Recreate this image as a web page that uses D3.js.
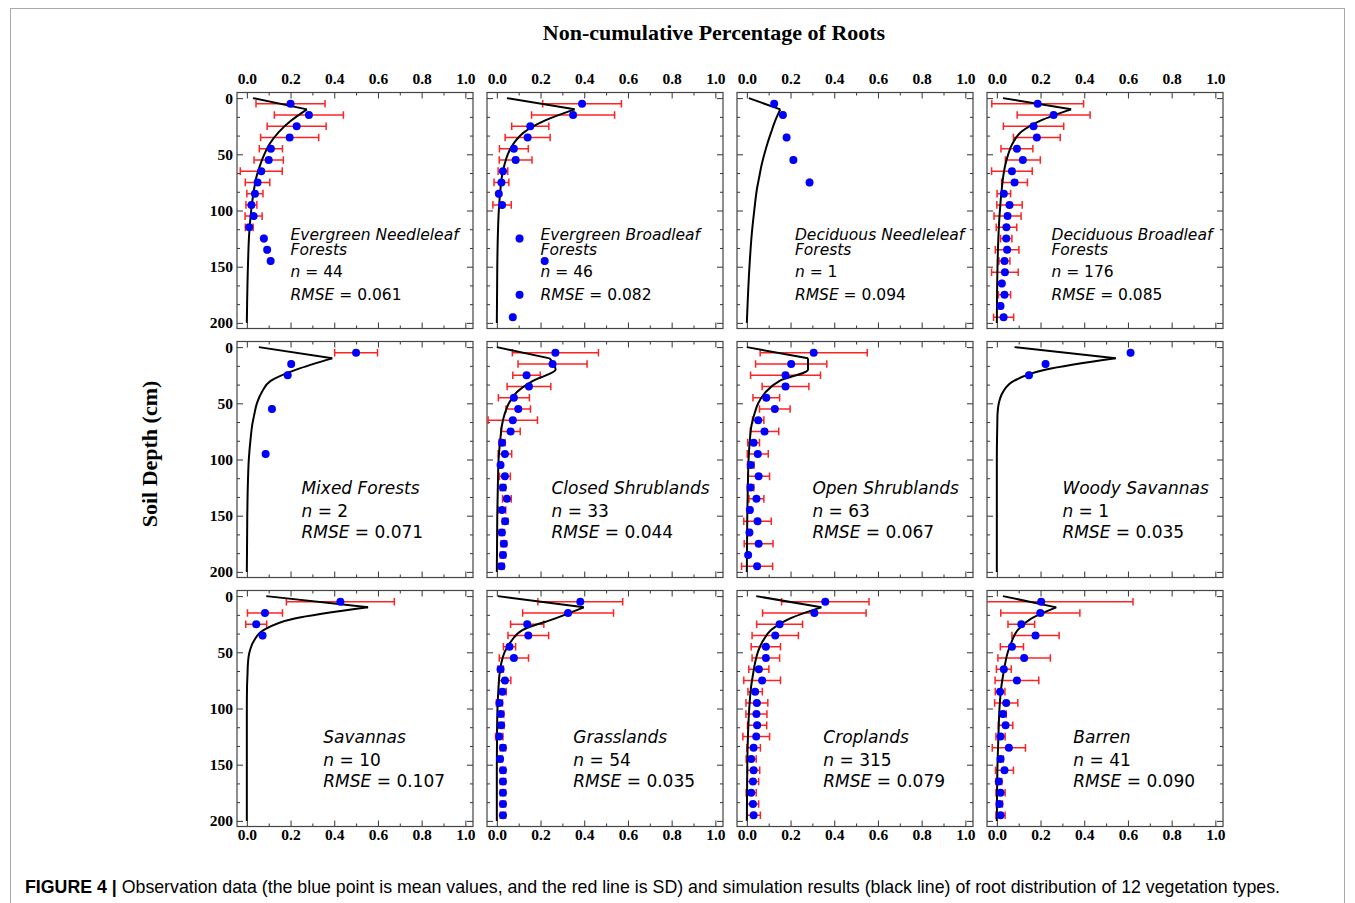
<!DOCTYPE html>
<html>
<head>
<meta charset="utf-8">
<script src="https://cdn.jsdelivr.net/npm/d3@7"></script>
<style>
  body { margin: 0; background: #fff; }
  svg { display: block; }
</style>
</head>
<body>
<svg width="1355" height="903"></svg>
<script>
// depths (cm): mid points of the observed layers and nodes of the simulated profile
const layerMid = [5, 15, 25, 35, 45, 55, 65, 75, 85, 95, 105, 115, 125, 135, 145, 155, 165, 175, 185, 195];
const simDepth = [0, 10, 20, 30, 40, 50, 60, 70, 80, 100, 120, 150, 200];
const xTicks = [0, 0.2, 0.4, 0.6, 0.8, 1.0];
const yTicks = [0, 50, 100, 150, 200];

const vegTypes = ["Evergreen Needleleaf\nForests", "Evergreen Broadleaf\nForests", "Deciduous Needleleaf\nForests", "Deciduous Broadleaf\nForests",
  "Mixed Forests", "Closed Shrublands", "Open Shrublands", "Woody Savannas",
  "Savannas", "Grasslands", "Croplands", "Barren"];
const nObs = [44, 46, 1, 176, 2, 33, 63, 1, 10, 54, 315, 41];
const rmse = ["0.061", "0.082", "0.094", "0.085", "0.071", "0.044", "0.067", "0.035", "0.107", "0.035", "0.079", "0.090"];

// observed mean (blue), SD (red) and simulated fraction (black), per layer
const enfMean = [0.20, 0.284, 0.228, 0.196, 0.11, 0.10, 0.066, 0.049, 0.037, 0.021, 0.031, 0.011, 0.078, 0.093, 0.109];
const enfSd   = [0.158, 0.158, 0.135, 0.133, 0.053, 0.067, 0.096, 0.056, 0.037, 0.025, 0.039, 0.018, 0.004, 0.004, 0.004];
const enfSim  = [0.028, 0.275, 0.203, 0.147, 0.107, 0.08, 0.06, 0.044, 0.034, 0.02, 0.011, 0.005, 0];

const ebfMean = [0.39, 0.349, 0.153, 0.141, 0.078, 0.086, 0.028, 0.021, 0.009, 0.024, null, null, 0.104, null, 0.219, null, null, 0.104, null, 0.073];
const ebfSd   = [0.18, 0.19, 0.085, 0.103, 0.066, 0.075, 0.022, 0.034, 0.005, 0.042, null, null, 0.004, null, 0.004, null, null, 0.004, null, 0.004];
const ebfSim  = [0.046, 0.356, 0.219, 0.127, 0.078, 0.05, 0.034, 0.023, 0.017, 0.009, 0.005, 0.002, 0];

const dnfMean = [0.125, 0.165, null, 0.182, null, 0.213, null, 0.287];
const dnfSd   = [0.004, 0.004, null, 0.004, null, 0.004, null, 0.004];
const dnfSim  = [0.009, 0.153, 0.13, 0.112, 0.095, 0.08, 0.067, 0.057, 0.047, 0.034, 0.023, 0.012, 0];

const dbfMean = [0.187, 0.26, 0.168, 0.183, 0.092, 0.119, 0.069, 0.081, 0.032, 0.058, 0.049, 0.044, 0.043, 0.047, 0.035, 0.037, 0.023, 0.035, 0.017, 0.031];
const dbfSd   = [0.21, 0.167, 0.138, 0.107, 0.073, 0.08, 0.093, 0.059, 0.031, 0.058, 0.062, 0.047, 0.026, 0.054, 0.025, 0.061, 0.005, 0.028, 0.005, 0.046];
const dbfSim  = [0.028, 0.34, 0.20, 0.112, 0.073, 0.052, 0.038, 0.029, 0.023, 0.014, 0.008, 0.003, 0];

const mfMean = [0.50, 0.203, 0.187, null, null, 0.115, null, null, null, 0.086];
const mfSd   = [0.098, 0.004, 0.004, null, null, 0.004, null, null, null, 0.004];
const mfSim  = [0.055, 0.391, 0.226, 0.109, 0.069, 0.046, 0.034, 0.024, 0.018, 0.009, 0.005, 0.002, 0];

const csMean = [0.268, 0.255, 0.136, 0.147, 0.078, 0.098, 0.073, 0.063, 0.024, 0.037, 0.017, 0.037, 0.028, 0.046, 0.024, 0.038, 0.023, 0.032, 0.028, 0.021];
const csSd   = [0.197, 0.158, 0.063, 0.10, 0.071, 0.056, 0.113, 0.044, 0.014, 0.031, 0.006, 0.025, 0.012, 0.02, 0.017, 0.013, 0.012, 0.013, 0.012, 0.012];
const csSim  = [0.0, 0.242, 0.269, 0.165, 0.092, 0.055, 0.035, 0.023, 0.017, 0.008, 0.005, 0.002, 0];

const osMean = [0.306, 0.203, 0.177, 0.177, 0.089, 0.128, 0.052, 0.081, 0.031, 0.05, 0.018, 0.054, 0.017, 0.044, 0.014, 0.049, 0.012, 0.054, 0.006, 0.047];
const osSd   = [0.245, 0.163, 0.16, 0.107, 0.061, 0.07, 0.026, 0.065, 0.027, 0.048, 0.015, 0.05, 0.015, 0.034, 0.007, 0.063, 0.006, 0.066, 0.003, 0.071];
const osSim  = [0.0, 0.28, 0.28, 0.15, 0.086, 0.052, 0.034, 0.021, 0.015, 0.008, 0.005, 0.002, 0];

const wsMean = [0.612, 0.223, 0.147];
const wsSd   = [0.004, 0.004, 0.004];
const wsSim  = [0.081, 0.544, 0.226, 0.078, 0.028, 0.009, 0.003, 0.002, 0.001, 0, 0, 0, 0];

const savMean = [0.428, 0.083, 0.043, 0.072];
const savSd   = [0.247, 0.08, 0.048, 0.004];
const savSim  = [0.089, 0.555, 0.219, 0.078, 0.032, 0.012, 0.005, 0.003, 0.001, 0, 0, 0, 0];

const graMean = [0.382, 0.326, 0.139, 0.144, 0.058, 0.078, 0.017, 0.037, 0.026, 0.012, 0.018, 0.02, 0.011, 0.028, 0.015, 0.028, 0.028, 0.028, 0.028, 0.028];
const graSd   = [0.194, 0.208, 0.076, 0.093, 0.028, 0.067, 0.013, 0.027, 0.017, 0.014, 0.014, 0.013, 0.017, 0.012, 0.011, 0.012, 0.012, 0.012, 0.012, 0.012];
const graSim  = [0.005, 0.398, 0.265, 0.119, 0.066, 0.035, 0.02, 0.012, 0.008, 0.003, 0.001, 0, 0];

const croMean = [0.359, 0.309, 0.15, 0.13, 0.087, 0.087, 0.055, 0.07, 0.038, 0.046, 0.044, 0.047, 0.043, 0.031, 0.02, 0.031, 0.028, 0.02, 0.028, 0.031];
const croSd   = [0.20, 0.237, 0.105, 0.106, 0.067, 0.063, 0.046, 0.084, 0.033, 0.05, 0.048, 0.044, 0.061, 0.031, 0.023, 0.028, 0.026, 0.023, 0.026, 0.031];
const croSim  = [0.043, 0.341, 0.196, 0.112, 0.073, 0.05, 0.037, 0.028, 0.02, 0.011, 0.006, 0.002, 0];

const barMean = [0.203, 0.199, 0.112, 0.177, 0.069, 0.125, 0.032, 0.092, 0.015, 0.043, 0.028, 0.04, 0.017, 0.055, 0.017, 0.035, 0.009, 0.017, 0.012, 0.017];
const barSd   = [0.42, 0.181, 0.061, 0.108, 0.053, 0.12, 0.034, 0.10, 0.022, 0.053, 0.015, 0.033, 0.021, 0.076, 0.013, 0.041, 0.014, 0.021, 0.014, 0.021];
const barSim  = [0.028, 0.272, 0.157, 0.096, 0.069, 0.05, 0.038, 0.029, 0.021, 0.012, 0.008, 0.003, 0];

const meanData = [enfMean, ebfMean, dnfMean, dbfMean, mfMean, csMean, osMean, wsMean, savMean, graMean, croMean, barMean];
const sdData = [enfSd, ebfSd, dnfSd, dbfSd, mfSd, csSd, osSd, wsSd, savSd, graSd, croSd, barSd];
const simData = [enfSim, ebfSim, dnfSim, dbfSim, mfSim, csSim, osSim, wsSim, savSim, graSim, croSim, barSim];

// x of the text block in each panel (data units)
const labelX = [0.2, 0.2, 0.22, 0.25, 0.25, 0.25, 0.3, 0.3, 0.35, 0.35, 0.35, 0.35];

const svg = d3.select("svg");
const size = 236, colStep = 250, rowStep = 249, left0 = 237, top0 = 92.5;
const tickFont = "Liberation Serif, Times New Roman, serif";
const labelFont = "DejaVu Sans, sans-serif";

const x = d3.scaleLinear().domain([-0.045, 1.035]).range([0, size]);
const y = d3.scaleLinear().domain([-5, 205]).range([0, size]);
const xMinor = [0.1, 0.3, 0.5, 0.7, 0.9];
const yMinor = d3.range(0, 201, 50 / 3).filter(v => Math.abs(v % 50) > 1 && Math.abs(v % 50 - 50) > 1);

// outer figure frame
svg.append("rect")
  .attr("x", 10.5).attr("y", 8.5)
  .attr("width", 1334).attr("height", 1000)
  .attr("fill", "none").attr("stroke", "#aaa").attr("stroke-width", 1);

svg.append("text")
  .attr("x", 714).attr("y", 40)
  .attr("text-anchor", "middle")
  .style("font-family", tickFont).style("font-weight", "bold").style("font-size", "22px")
  .text("Non-cumulative Percentage of Roots");

svg.append("text")
  .attr("transform", "translate(157,454) rotate(-90)")
  .attr("text-anchor", "middle")
  .style("font-family", tickFont).style("font-weight", "bold").style("font-size", "22px")
  .text("Soil Depth (cm)");

const cap = svg.append("text")
  .attr("x", 25).attr("y", 893)
  .style("font-family", "Liberation Sans, Arial, sans-serif").style("font-size", "17.75px");
cap.append("tspan").style("font-weight", "bold").text("FIGURE 4 |");
cap.append("tspan").text(" Observation data (the blue point is mean values, and the red line is SD) and simulation results (black line) of root distribution of 12 vegetation types.");

vegTypes.forEach((name, i) => {
  const col = i % 4, row = Math.floor(i / 4);
  const g = svg.append("g")
    .attr("transform", `translate(${left0 + col * colStep},${top0 + row * rowStep})`);

  g.append("clipPath").attr("id", "clip" + i)
    .append("rect").attr("width", size).attr("height", size);

  // ticks, inward on all four sides
  const styleAxis = a => {
    a.select(".domain").remove();
    a.selectAll("line").attr("stroke", "#333").attr("stroke-width", 1);
    a.selectAll("text").style("font-family", tickFont).style("font-weight", "bold")
      .style("font-size", "15.5px").attr("fill", "#000");
  };
  const fmt = d3.format(".1f");

  g.append("g").call(d3.axisTop(x).tickValues(xTicks).tickSizeInner(-6).tickSizeOuter(0).tickPadding(9)
      .tickFormat(row === 0 ? fmt : "")).call(styleAxis);
  g.append("g").call(d3.axisTop(x).tickValues(xMinor).tickSizeInner(-3).tickSizeOuter(0).tickFormat("")).call(styleAxis);
  g.append("g").attr("transform", `translate(0,${size})`)
    .call(d3.axisBottom(x).tickValues(xTicks).tickSizeInner(-6).tickSizeOuter(0).tickPadding(2)
      .tickFormat(row === 2 ? fmt : "")).call(styleAxis);
  g.append("g").attr("transform", `translate(0,${size})`)
    .call(d3.axisBottom(x).tickValues(xMinor).tickSizeInner(-3).tickSizeOuter(0).tickFormat("")).call(styleAxis);
  g.append("g").call(d3.axisLeft(y).tickValues(yTicks).tickSizeInner(-6).tickSizeOuter(0).tickPadding(4)
      .tickFormat(col === 0 ? d3.format("d") : "")).call(styleAxis);
  g.append("g").call(d3.axisLeft(y).tickValues(yMinor).tickSizeInner(-3).tickSizeOuter(0).tickFormat("")).call(styleAxis);
  g.append("g").attr("transform", `translate(${size},0)`)
    .call(d3.axisRight(y).tickValues(yTicks).tickSizeInner(-6).tickSizeOuter(0).tickFormat("")).call(styleAxis);
  g.append("g").attr("transform", `translate(${size},0)`)
    .call(d3.axisRight(y).tickValues(yMinor).tickSizeInner(-3).tickSizeOuter(0).tickFormat("")).call(styleAxis);

  g.append("rect").attr("width", size).attr("height", size)
    .attr("fill", "none").attr("stroke", "#444").attr("stroke-width", 1.2);

  const plot = g.append("g").attr("clip-path", `url(#clip${i})`);

  // observations
  const obs = meanData[i].map((m, k) => ({ depth: layerMid[k], mean: m, sd: sdData[i][k] }))
    .filter(d => d.mean !== null);

  const bars = plot.selectAll(".err").data(obs).enter().append("g")
    .attr("stroke", "#f22").attr("stroke-width", 1.5);
  bars.append("line")
    .attr("x1", d => x(d.mean - d.sd)).attr("x2", d => x(d.mean + d.sd))
    .attr("y1", d => y(d.depth)).attr("y2", d => y(d.depth));
  bars.append("line")
    .attr("x1", d => x(d.mean - d.sd)).attr("x2", d => x(d.mean - d.sd))
    .attr("y1", d => y(d.depth) - 3.8).attr("y2", d => y(d.depth) + 3.8);
  bars.append("line")
    .attr("x1", d => x(d.mean + d.sd)).attr("x2", d => x(d.mean + d.sd))
    .attr("y1", d => y(d.depth) - 3.8).attr("y2", d => y(d.depth) + 3.8);

  // simulated profile: straight top segment, smooth below the peak
  const sim = simData[i].map((v, k) => ({ depth: simDepth[k], value: v }));
  const top = d3.line().x(d => x(d.value)).y(d => y(d.depth));
  const deep = d3.line().x(d => x(d.value)).y(d => y(d.depth)).curve(d3.curveMonotoneY);
  plot.append("path").attr("d", top(sim.slice(0, 2)))
    .attr("fill", "none").attr("stroke", "#000").attr("stroke-width", 2);
  plot.append("path").attr("d", deep(sim.slice(1)))
    .attr("fill", "none").attr("stroke", "#000").attr("stroke-width", 2);

  plot.selectAll(".dot").data(obs).enter().append("circle")
    .attr("cx", d => x(d.mean)).attr("cy", d => y(d.depth))
    .attr("r", 4).attr("fill", "#0000ff");

  // annotation
  const lines = name.split("\n");
  const fs = row === 0 ? 15.5 : 17;
  const base = row === 0 ? [147.5, 162.8, 184.2, 207.5] : [152.3, 175.7, 196.7];
  const tx = x(labelX[i]);
  const txt = g.append("g").style("font-family", labelFont).style("font-size", fs + "px");
  lines.forEach((l, k) => {
    txt.append("text").attr("x", tx).attr("y", base[k]).style("font-style", "italic").text(l);
  });
  const nT = txt.append("text").attr("x", tx).attr("y", base[lines.length]);
  nT.append("tspan").style("font-style", "italic").text("n");
  nT.append("tspan").text(" = " + nObs[i]);
  const rT = txt.append("text").attr("x", tx).attr("y", base[lines.length + 1]);
  rT.append("tspan").style("font-style", "italic").text("RMSE");
  rT.append("tspan").text(" = " + rmse[i]);
});
</script>
</body>
</html>
